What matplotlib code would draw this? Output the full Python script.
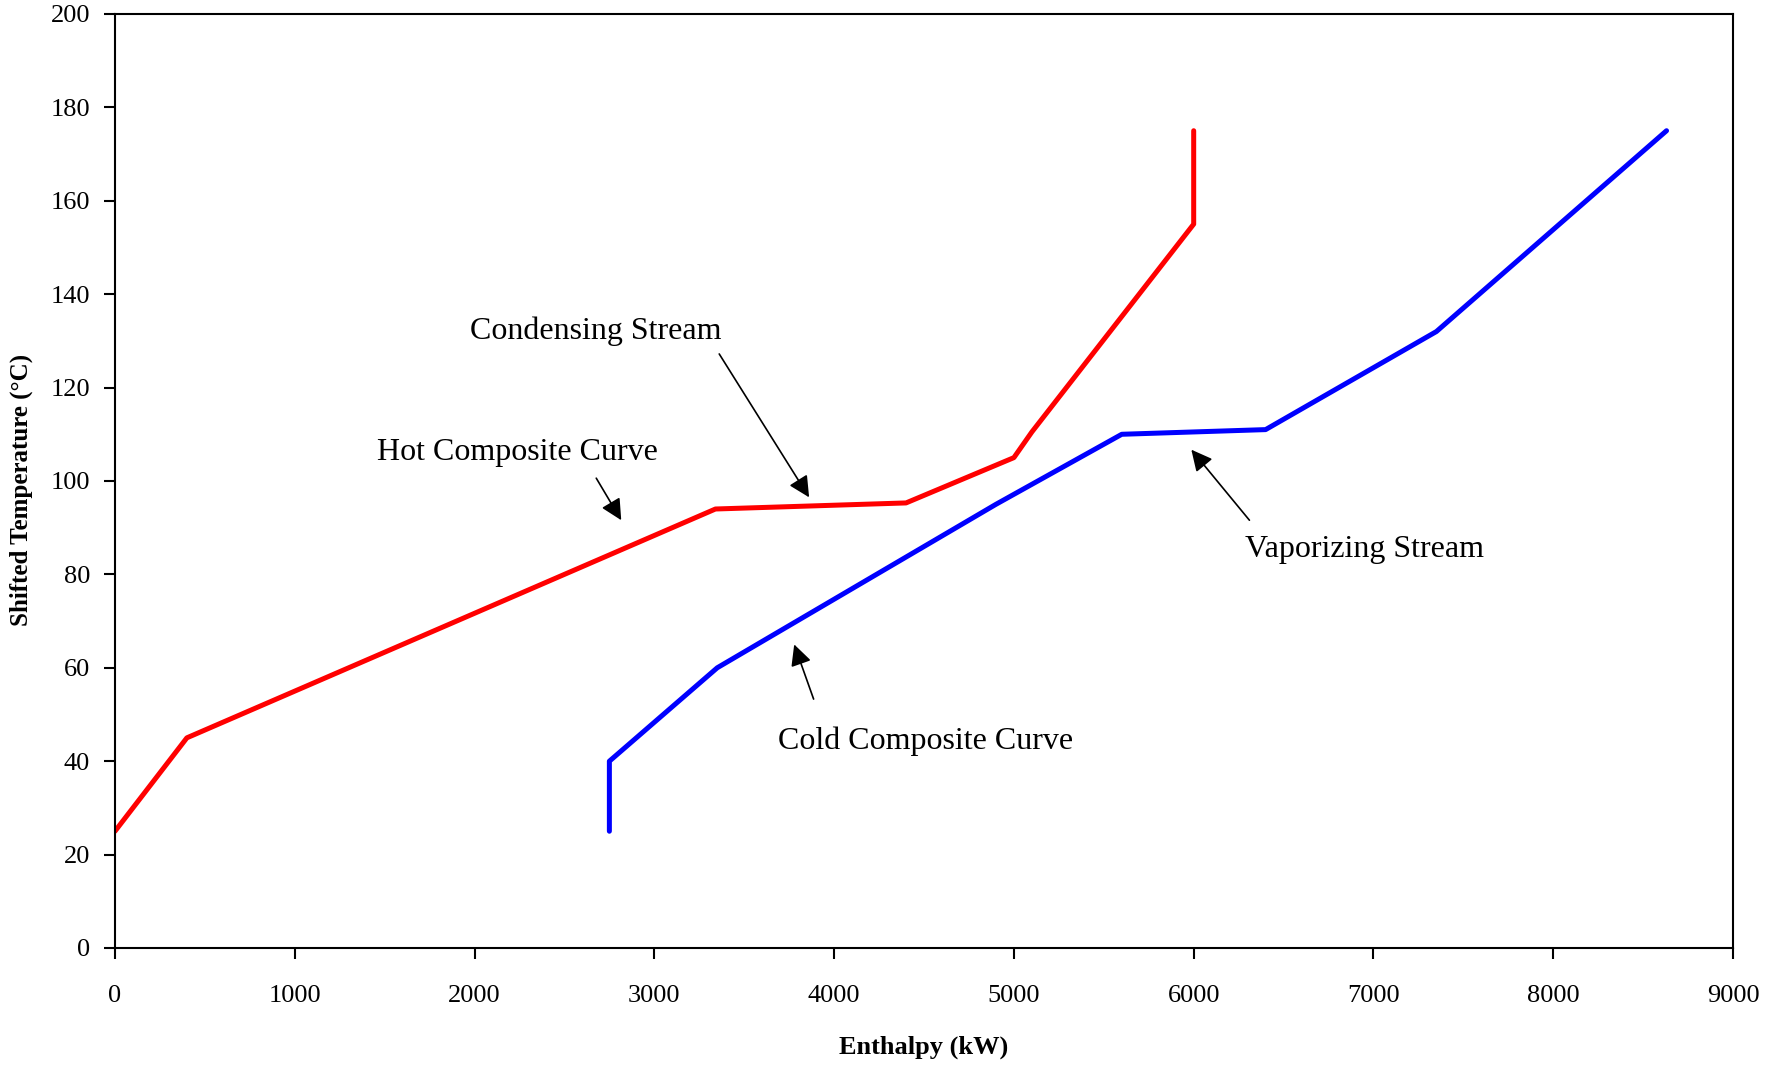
import matplotlib
matplotlib.use("Agg")
import matplotlib.pyplot as plt

# composite curve data (enthalpy kW, shifted temp C)
hot_h = [0, 400, 3340, 4400, 5000, 5100, 6000, 6000]
hot_t = [25, 45, 94, 95.3, 105, 110.5, 155, 175]
cold_h = [2750, 2750, 3350, 4900, 5600, 6400, 7350, 8630]
cold_t = [25, 40, 60, 95, 110, 111, 132, 175]

# annotation labels: text, text position, arrow tail, arrow head
labels = ["Condensing Stream", "Hot Composite Curve", "Vaporizing Stream", "Cold Composite Curve"]
label_pos = [(2677, 132.0), (2241, 106.2), (6949, 85.3), (4506, 44.3)]
arrow_tail = [(3361, 127.2), (2677, 100.6), (6310, 91.6), (3886, 53.3)]
arrow_head = [(3861, 96.5), (2816, 91.6), (5987, 106.7), (3778, 65.0)]

plt.rcParams['font.family'] = ['Liberation Serif', 'DejaVu Serif']

fig = plt.figure(figsize=(17.85, 10.66), dpi=100)
ax = fig.add_axes([0.0644, 0.1107, 0.9065, 0.8762])

ax.plot(hot_h, hot_t, color='red', lw=3.6, solid_capstyle='round', solid_joinstyle='round')
ax.plot(cold_h, cold_t, color='blue', lw=3.6, solid_capstyle='round', solid_joinstyle='round')

for txt, pos, tail, head in zip(labels, label_pos, arrow_tail, arrow_head):
    ax.text(pos[0], pos[1], txt, fontsize=23, ha='center', va='center')
    ax.annotate('', xy=head, xytext=tail,
                arrowprops=dict(arrowstyle='-|>', color='black', lw=1.2,
                                mutation_scale=32, shrinkA=0, shrinkB=0))

ax.set_xlim(0, 9000)
ax.set_ylim(0, 200)
ax.set_xticks(range(0, 9001, 1000))
ax.set_yticks(range(0, 201, 20))
ax.tick_params(axis='both', direction='out', length=8, width=1.5, labelsize=19)
ax.tick_params(axis='x', pad=19)
ax.tick_params(axis='y', pad=10)
for s in ax.spines.values():
    s.set_linewidth(1.5)

ax.set_xlabel('Enthalpy (kW)', fontsize=19, fontweight='bold', labelpad=20)
ax.set_ylabel('Shifted Temperature (\u00b0C)', fontsize=18, fontweight='bold')
ax.yaxis.set_label_coords(-0.0505, 0.49)

fig.savefig('out.png', dpi=100)
